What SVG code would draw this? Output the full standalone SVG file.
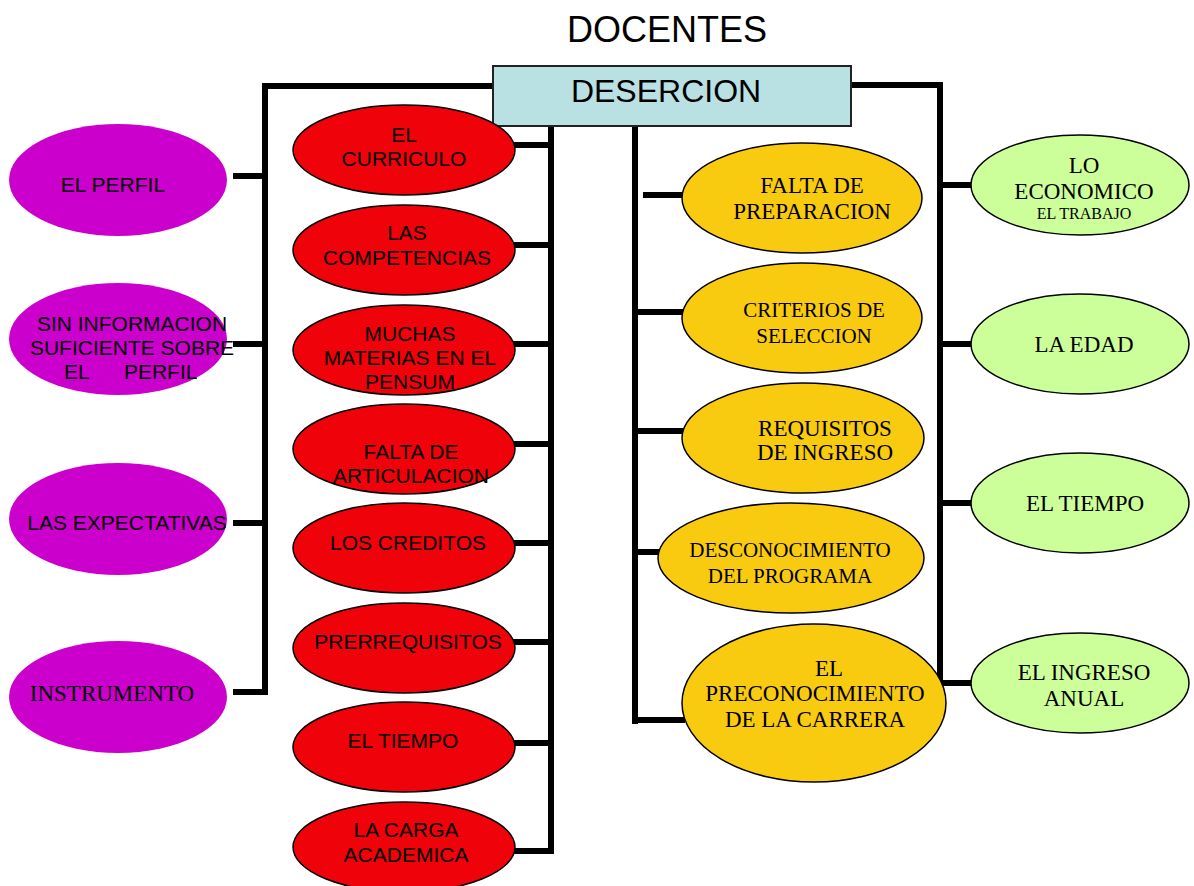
<svg xmlns="http://www.w3.org/2000/svg" width="1194" height="886" viewBox="0 0 1194 886">
<style>
.sans{font-family:"Liberation Sans",Arial,sans-serif;fill:#000}
.serif{font-family:"Liberation Serif","Times New Roman",serif;fill:#000}
.c{text-anchor:middle}
.s21{font-size:21px}
.f23{font-size:23px}
.f21{font-size:21px}
.pur{fill:#CC00CC;stroke:none}
.red{fill:#F0020A;stroke:#000;stroke-width:1.5}
.ora{fill:#F9CB10;stroke:#000;stroke-width:1.5}
.grn{fill:#CCFF99;stroke:#000;stroke-width:1.5}
.ln{stroke:#000;stroke-width:6;fill:none;stroke-linecap:square}
</style>
<rect width="1194" height="886" fill="#fff"/>
<text class="sans c" x="667" y="42" font-size="36">DOCENTES</text>
<g id="connectors">
<path class="ln" d="M490 86 H265 V692 M236 176 H265 M236 344 H265 M236 523 H265 M236 692 H265"/>
<path class="ln" d="M551 128 V851 M515 145 H551 M515 245 H551 M515 344 H551 M515 444 H551 M515 543 H551 M515 642 H551 M515 743 H551 M515 851 H551"/>
<path class="ln" d="M635 122 V721 M646 195 H682 M635 312 H682 M635 431 H682 M635 552 H658 M635 720 H682"/>
<path class="ln" d="M854 85 H940 V683 M940 185 H972 M940 344 H972 M940 503 H972 M940 683 H972"/>
</g>
<g id="deserción">
<rect x="493" y="66" width="358" height="60" fill="#B9E1E4" stroke="#222" stroke-width="2"/>
<text class="sans c" x="666" y="102" font-size="32">DESERCION</text>
</g>
<g id="p-perfil"><ellipse class="pur" cx="118" cy="180" rx="109" ry="56"/>
<text class="sans s21 c" x="113" y="192">EL PERFIL</text></g>
<g id="p-sininfo"><ellipse class="pur" cx="118" cy="339" rx="109" ry="56"/>
<text class="sans s21 c" x="132" y="331">SIN INFORMACION</text>
<text class="sans s21 c" x="132" y="355">SUFICIENTE SOBRE</text>
<text class="sans s21" x="64" y="379" xml:space="preserve">EL      PERFIL</text></g>
<g id="p-expectativas"><ellipse class="pur" cx="118" cy="519" rx="109" ry="56"/>
<text class="sans s21 c" x="127" y="530">LAS EXPECTATIVAS</text></g>
<g id="p-instrumento"><ellipse class="pur" cx="118" cy="697" rx="109" ry="56"/>
<text class="serif f23 c" x="112" y="701">INSTRUMENTO</text></g>

<g id="r-curriculo"><ellipse class="red" cx="404" cy="150" rx="111" ry="45"/>
<text class="sans s21 c" x="404" y="142">EL</text><text class="sans s21 c" x="404" y="166">CURRICULO</text></g>
<g id="r-competencias"><ellipse class="red" cx="404" cy="250" rx="111" ry="45"/>
<text class="sans s21 c" x="407" y="240">LAS</text><text class="sans s21 c" x="407" y="265">COMPETENCIAS</text></g>
<g id="r-materias"><ellipse class="red" cx="404" cy="350" rx="111" ry="45"/>
<text class="sans s21 c" x="410" y="341">MUCHAS</text><text class="sans s21 c" x="410" y="365">MATERIAS EN EL</text><text class="sans s21 c" x="410" y="389">PENSUM</text></g>
<g id="r-articulacion"><ellipse class="red" cx="404" cy="449" rx="111" ry="45"/>
<text class="sans s21 c" x="411" y="459">FALTA DE</text><text class="sans s21 c" x="411" y="483">ARTICULACION</text></g>
<g id="r-creditos"><ellipse class="red" cx="404" cy="548" rx="111" ry="45"/>
<text class="sans s21 c" x="408" y="550">LOS CREDITOS</text></g>
<g id="r-prerrequisitos"><ellipse class="red" cx="404" cy="648" rx="111" ry="45"/>
<text class="sans s21 c" x="408" y="649">PRERREQUISITOS</text></g>
<g id="r-tiempo"><ellipse class="red" cx="404" cy="747" rx="111" ry="45"/>
<text class="sans s21 c" x="403" y="748">EL TIEMPO</text></g>
<g id="r-carga"><ellipse class="red" cx="404" cy="847" rx="111" ry="45"/>
<text class="sans s21 c" x="406" y="837">LA CARGA</text><text class="sans s21 c" x="406" y="862">ACADEMICA</text></g>

<g id="o-preparacion"><ellipse class="ora" cx="802" cy="198" rx="120" ry="55"/>
<text class="serif f23 c" x="812" y="193">FALTA DE</text><text class="serif f23 c" x="812" y="219">PREPARACION</text></g>
<g id="o-criterios"><ellipse class="ora" cx="802" cy="318" rx="120" ry="55"/>
<text class="serif f21 c" x="814" y="317">CRITERIOS DE</text><text class="serif f21 c" x="814" y="343">SELECCION</text></g>
<g id="o-requisitos"><ellipse class="ora" cx="803" cy="438" rx="121" ry="55"/>
<text class="serif f23 c" x="825" y="436">REQUISITOS</text><text class="serif f23 c" x="825" y="460">DE INGRESO</text></g>
<g id="o-desconocimiento"><ellipse class="ora" cx="791" cy="558" rx="133" ry="55"/>
<text class="serif f21 c" x="790" y="557">DESCONOCIMIENTO</text><text class="serif f21 c" x="790" y="583">DEL PROGRAMA</text></g>
<g id="o-preconocimiento"><ellipse class="ora" cx="814" cy="703" rx="132" ry="79"/>
<text class="serif f23 c" x="829" y="676">EL</text><text class="serif f23 c" x="815" y="701">PRECONOCIMIENTO</text><text class="serif f23 c" x="815" y="727">DE LA CARRERA</text></g>

<g id="g-economico"><ellipse class="grn" cx="1080" cy="185" rx="109" ry="50"/>
<text class="serif f23 c" x="1084" y="173">LO</text><text class="serif f23 c" x="1084" y="199">ECONOMICO</text><text class="serif c" font-size="16" x="1084" y="219">EL TRABAJO</text></g>
<g id="g-edad"><ellipse class="grn" cx="1080" cy="344" rx="109" ry="50"/>
<text class="serif f23 c" x="1084" y="352">LA EDAD</text></g>
<g id="g-tiempo"><ellipse class="grn" cx="1080" cy="503" rx="109" ry="50"/>
<text class="serif f23 c" x="1085" y="511">EL TIEMPO</text></g>
<g id="g-ingreso"><ellipse class="grn" cx="1080" cy="683" rx="109" ry="50"/>
<text class="serif f23 c" x="1084" y="680">EL INGRESO</text><text class="serif f23 c" x="1084" y="706">ANUAL</text></g>
</svg>
